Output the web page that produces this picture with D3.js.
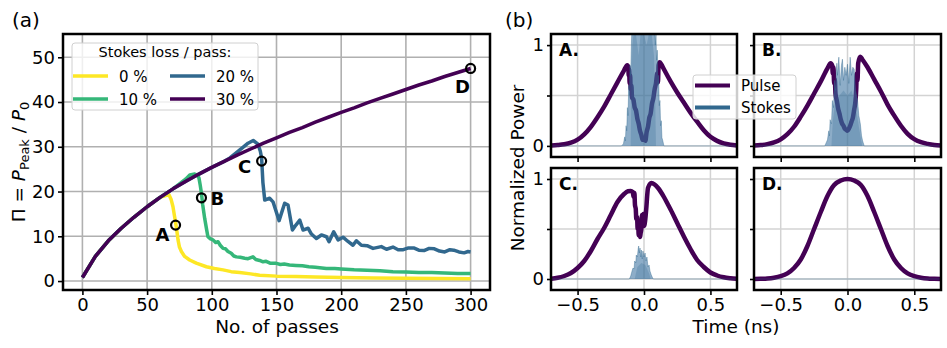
<!DOCTYPE html>
<html lang="en">
<head>
<meta charset="utf-8">
<title>Stokes loss chart</title>
<script src="https://cdn.jsdelivr.net/npm/d3@7"></script>
<style>
  body { margin: 0; background: #fff; }
  svg { font-family: "DejaVu Sans", sans-serif; display: block; }
</style>
</head>
<body>
<script>
// ---- data: panel (a) ----
var passes30 = [0,10,20,30,40,50,60,70,80,90,100,110,120,130,140,150,160,170,180,190,200,210,220,230,240,250,260,270,280,290,300];
var pi30 = [0.8,5.5,9.0,11.8,14.3,16.6,18.7,20.6,22.3,23.9,25.4,26.8,28.2,29.5,30.8,32.0,33.2,34.3,35.5,36.6,37.7,38.7,39.8,40.8,41.8,42.8,43.8,44.7,45.7,46.6,47.5];

var passes0 = [0,10,20,30,40,50,60,66.9,68.5,70,71,72.1,73,73.9,75,76.5,79,82.9,88,95.8,102,108.7,115,121.6,130,137,150,165,180,200,225,250,275,300];
var pi0 = [0.8,5.5,9.0,11.8,14.3,16.6,18.7,19.3,18.3,16.6,14.8,12.9,11.2,9.2,7.6,6.6,5.5,4.7,4.0,3.2,2.8,2.5,2.1,1.9,1.6,1.3,1.1,1.0,0.9,0.8,0.7,0.6,0.55,0.5];

var passes10 = [0,10,20,30,40,50,60,70,75,80,83,86.8,89,90.1,91,92,93,94.5,96,97,99,100.9,103,104.8,106.5,108.7,110.5,112.5,115,117,119,122,125.4,128,131.8,134,137,139.6,142,145,149.9,153,156,160,165,170,175,180,188.5,195,200,210,220,230,240,250,260,270,280,290,300];
var pi10 = [0.8,5.5,9.0,11.8,14.3,16.6,18.7,20.6,21.7,22.8,23.7,23.9,23.6,23.0,21.5,19.6,17.0,14.0,11.5,9.9,9.4,9.2,8.6,8.8,8.0,7.3,7.2,6.6,6.2,5.6,5.4,5.3,5.1,5.0,5.4,4.8,4.6,4.3,4.4,4.0,3.95,3.7,3.8,3.6,3.5,3.4,3.2,3.1,2.8,2.8,2.7,2.5,2.4,2.3,2.1,2.0,1.9,1.9,1.8,1.7,1.7];

var passes20 = [0,10,20,30,40,50,60,70,80,90,100,110,114,120,125,128,132,135.7,137.5,138.5,139.5,140.9,144.7,147.3,152,156.3,158.9,162.3,165,168,170.5,174.4,177,180.8,184.7,188.6,190.6,194.2,197.6,201.4,205,209.1,211.7,215.6,220,224.6,231,235,240,244,248,252,256,260,264,268,272,276,280,284,287,291,295,298,300];
var pi20 = [0.8,5.5,9.0,11.8,14.3,16.6,18.7,20.6,22.3,23.9,25.4,26.8,27.5,28.9,30.1,30.8,31.4,30.6,29.0,27.5,22.0,18.1,18.5,17.7,13.5,17.4,17.0,11.4,12.5,13.6,11.4,11.8,10.5,9.5,10.3,9.9,8.8,11.0,9.2,9.8,8.9,8.0,9.0,8.0,7.9,7.3,7.7,7.1,7.6,7.0,7.0,7.4,7.4,6.9,6.8,7.3,7.2,6.7,6.5,7.0,6.9,6.5,6.3,6.6,6.5];

var markerPass = [72, 92, 138.5, 300];
var markerPi = [12.5, 18.6, 26.8, 47.5];
var markerName = ["A", "B", "C", "D"];
var lossLabels = ["0 %", "10 %", "20 %", "30 %"];

// ---- data: panel (b), [time ns, normalized power] ----
var pulseA = [[-0.7,0.003],[-0.65,0.008],[-0.6,0.016],[-0.55,0.032],[-0.5,0.062],[-0.45,0.115],[-0.4,0.19],[-0.35,0.285],[-0.3,0.39],[-0.25,0.51],[-0.2,0.63],[-0.15,0.75],[-0.126,0.8],[-0.118,0.78],[-0.115,0.7],[-0.112,0.76],[-0.108,0.62],[-0.104,0.7],[-0.1,0.56],[-0.095,0.6],[-0.09,0.48],[-0.08,0.46],[-0.07,0.38],[-0.06,0.35],[-0.05,0.27],[-0.04,0.22],[-0.03,0.15],[-0.02,0.11],[-0.01,0.06],[0,0.08],[0.01,0.05],[0.02,0.14],[0.03,0.19],[0.04,0.28],[0.05,0.32],[0.06,0.42],[0.07,0.47],[0.08,0.56],[0.09,0.62],[0.1,0.72],[0.105,0.63],[0.11,0.8],[0.118,0.83],[0.13,0.81],[0.15,0.76],[0.2,0.64],[0.25,0.53],[0.3,0.43],[0.35,0.33],[0.4,0.24],[0.45,0.155],[0.5,0.09],[0.55,0.05],[0.6,0.025],[0.65,0.012],[0.7,0.005]];
var pulseB = [[-0.7,0.003],[-0.65,0.008],[-0.6,0.018],[-0.55,0.035],[-0.5,0.065],[-0.45,0.116],[-0.4,0.19],[-0.35,0.29],[-0.3,0.4],[-0.25,0.52],[-0.2,0.64],[-0.15,0.77],[-0.126,0.82],[-0.115,0.8],[-0.11,0.72],[-0.105,0.78],[-0.1,0.62],[-0.095,0.66],[-0.09,0.52],[-0.08,0.45],[-0.07,0.37],[-0.06,0.32],[-0.05,0.26],[-0.04,0.22],[-0.03,0.2],[-0.02,0.17],[-0.01,0.16],[0,0.15],[0.01,0.17],[0.02,0.2],[0.03,0.24],[0.04,0.28],[0.05,0.36],[0.06,0.45],[0.065,0.55],[0.07,0.72],[0.075,0.65],[0.08,0.82],[0.096,0.885],[0.11,0.86],[0.15,0.78],[0.2,0.66],[0.25,0.54],[0.3,0.41],[0.35,0.3],[0.4,0.2],[0.45,0.12],[0.5,0.067],[0.55,0.037],[0.6,0.02],[0.65,0.009],[0.7,0.004]];
var pulseC = [[-0.7,0.003],[-0.65,0.012],[-0.6,0.03],[-0.55,0.06],[-0.5,0.11],[-0.45,0.18],[-0.4,0.28],[-0.35,0.4],[-0.3,0.51],[-0.25,0.64],[-0.2,0.77],[-0.15,0.85],[-0.121,0.877],[-0.1,0.88],[-0.085,0.87],[-0.078,0.82],[-0.072,0.86],[-0.068,0.74],[-0.062,0.7],[-0.058,0.6],[-0.052,0.62],[-0.048,0.5],[-0.044,0.55],[-0.04,0.44],[-0.035,0.48],[-0.03,0.42],[-0.025,0.46],[-0.02,0.5],[-0.015,0.64],[-0.01,0.55],[-0.005,0.65],[0,0.53],[0.005,0.55],[0.01,0.6],[0.018,0.72],[0.025,0.85],[0.03,0.91],[0.055,0.96],[0.08,0.945],[0.106,0.91],[0.15,0.82],[0.181,0.743],[0.2,0.695],[0.25,0.56],[0.3,0.425],[0.35,0.3],[0.4,0.19],[0.45,0.12],[0.5,0.065],[0.55,0.035],[0.6,0.017],[0.65,0.008],[0.7,0.003]];
var pulseD = [[-0.7,0.0],[-0.65,0.002],[-0.6,0.005],[-0.55,0.013],[-0.5,0.028],[-0.45,0.056],[-0.4,0.11],[-0.35,0.195],[-0.3,0.33],[-0.25,0.5],[-0.2,0.67],[-0.15,0.83],[-0.1,0.94],[-0.05,0.985],[0,1.0],[0.05,0.985],[0.1,0.94],[0.15,0.83],[0.2,0.67],[0.25,0.5],[0.3,0.33],[0.35,0.195],[0.4,0.11],[0.45,0.056],[0.5,0.028],[0.55,0.013],[0.6,0.005],[0.65,0.002],[0.7,0.0]];

// stokes: outer envelope and dense core
var stokesA = [[-0.7,0],[-0.17,0],[-0.155,0.02],[-0.145,0.09],[-0.14,0.05],[-0.135,0.2],[-0.13,0.15],[-0.125,0.38],[-0.12,0.3],[-0.115,0.6],[-0.11,0.5],[-0.105,0.8],[-0.1,0.7],[-0.095,1.0],[-0.09,1.2],[0.08,1.2],[0.085,1.0],[0.09,1.1],[0.095,0.85],[0.1,0.95],[0.105,0.6],[0.11,0.7],[0.115,0.4],[0.12,0.45],[0.125,0.2],[0.13,0.25],[0.135,0.08],[0.14,0.06],[0.15,0],[0.7,0]];
var stokesCoreA = [[-0.1,0],[-0.095,0.5],[-0.088,1.0],[-0.07,1.2],[-0.04,0.9],[-0.02,1.2],[0.02,1.0],[0.05,1.2],[0.075,0.9],[0.085,0.4],[0.09,0]];
var stokesB = [[-0.7,0],[-0.17,0],[-0.16,0.03],[-0.15,0.06],[-0.14,0.15],[-0.135,0.1],[-0.13,0.26],[-0.12,0.22],[-0.113,0.45],[-0.105,0.38],[-0.096,0.65],[-0.09,0.55],[-0.08,0.82],[-0.075,0.7],[-0.065,0.88],[-0.055,0.6],[-0.045,0.8],[-0.038,0.86],[-0.03,0.65],[-0.02,0.78],[-0.01,0.7],[0,0.81],[0.01,0.62],[0.02,0.88],[0.03,0.7],[0.04,0.78],[0.05,0.76],[0.06,0.55],[0.075,0.45],[0.085,0.3],[0.096,0.22],[0.105,0.1],[0.113,0.05],[0.125,0],[0.7,0]];
var stokesCoreB = [[-0.12,0],[-0.11,0.25],[-0.09,0.45],[-0.06,0.5],[-0.03,0.55],[0,0.5],[0.03,0.55],[0.06,0.4],[0.09,0.15],[0.11,0]];
var stokesC = [[-0.7,0],[-0.11,0],[-0.1,0.03],[-0.09,0.08],[-0.083,0.11],[-0.075,0.1],[-0.07,0.18],[-0.062,0.16],[-0.058,0.24],[-0.05,0.22],[-0.044,0.3],[-0.04,0.33],[-0.035,0.26],[-0.03,0.31],[-0.024,0.22],[-0.02,0.29],[-0.013,0.2],[-0.008,0.28],[0,0.22],[0.008,0.26],[0.015,0.18],[0.022,0.22],[0.03,0.12],[0.038,0.14],[0.045,0.08],[0.055,0.04],[0.065,0.01],[0.07,0],[0.7,0]];
var stokesCoreC = [[-0.07,0],[-0.05,0.12],[-0.02,0.16],[0.01,0.14],[0.04,0.05],[0.05,0]];
var stokesD = [[-0.7,0],[0.7,0]];

var colors = ["#fde725", "#35b779", "#31688e", "#440154"];
var stokesColor = "#31688e";

var W = 947, H = 348;
var svg = d3.select("body").append("svg").attr("width", W).attr("height", H);

function styleAxis(sel, size) {
  sel.selectAll(".domain").remove();
  sel.selectAll(".tick line").attr("stroke-width", 1.6);
  sel.selectAll("g").attr("font-size", null).attr("font-family", null);
  sel.selectAll("text").attr("font-size", size).attr("font-family", "DejaVu Sans").attr("fill", "#000");
}

// ---------------- panel (a) ----------------
var pa = {x0: 63, x1: 490, y0: 34, y1: 290};
var x = d3.scaleLinear().domain([-15, 315]).range([pa.x0, pa.x1]);
var y = d3.scaleLinear().domain([-2, 55.2]).range([pa.y1, pa.y0]);

var ga = svg.append("g");
ga.append("clipPath").attr("id", "clipA").append("rect")
  .attr("x", pa.x0).attr("y", pa.y0).attr("width", pa.x1 - pa.x0).attr("height", pa.y1 - pa.y0);

var xt = [0, 50, 100, 150, 200, 250, 300], yt = [0, 10, 20, 30, 40, 50];
ga.selectAll(".gx").data(xt).enter().append("line")
  .attr("x1", x).attr("x2", x).attr("y1", pa.y0).attr("y2", pa.y1)
  .attr("stroke", "#b0b0b0").attr("stroke-width", 1.6);
ga.selectAll(".gy").data(yt).enter().append("line")
  .attr("y1", y).attr("y2", y).attr("x1", pa.x0).attr("x2", pa.x1)
  .attr("stroke", "#b0b0b0").attr("stroke-width", 1.6);

var series = [[passes0, pi0], [passes10, pi10], [passes20, pi20], [passes30, pi30]];
var line = d3.line().x(function(d) { return x(d[0]); }).y(function(d) { return y(d[1]); });
series.forEach(function(s, i) {
  var pts = s[0].map(function(p, j) { return [p, s[1][j]]; });
  ga.append("path").attr("d", line(pts)).attr("fill", "none")
    .attr("stroke", colors[i]).attr("stroke-width", 3.5)
    .attr("stroke-linejoin", "round").attr("clip-path", "url(#clipA)");
});

markerPass.forEach(function(p, i) {
  ga.append("circle").attr("cx", x(p)).attr("cy", y(markerPi[i])).attr("r", 4.5)
    .attr("fill", "none").attr("stroke", "#000").attr("stroke-width", 2.2);
});
var lblOff = [[-13, 16], [16, 7], [-17, 12], [-8, 25]];
markerName.forEach(function(n, i) {
  ga.append("text").attr("x", x(markerPass[i]) + lblOff[i][0]).attr("y", y(markerPi[i]) + lblOff[i][1])
    .attr("text-anchor", "middle").attr("font-size", 18).attr("font-weight", "bold").text(n);
});

var axA = ga.append("g");
axA.append("g").attr("transform", "translate(0," + pa.y1 + ")")
  .call(d3.axisBottom(x).tickValues(xt).tickSize(5).tickPadding(3).tickFormat(d3.format("d")));
axA.append("g").attr("transform", "translate(" + pa.x0 + ",0)")
  .call(d3.axisLeft(y).tickValues(yt).tickSize(5).tickPadding(3).tickFormat(d3.format("d")));
styleAxis(axA, 18);

ga.append("rect").attr("x", pa.x0).attr("y", pa.y0).attr("width", pa.x1 - pa.x0).attr("height", pa.y1 - pa.y0)
  .attr("fill", "none").attr("stroke", "#000").attr("stroke-width", 2.5);

// legend (a)
var lg = ga.append("g");
lg.append("rect").attr("x", 72).attr("y", 43).attr("width", 186).attr("height", 67).attr("rx", 3)
  .attr("fill", "#fff").attr("fill-opacity", 0.8).attr("stroke", "#d0d0d0");
lg.append("text").attr("x", 165).attr("y", 57).attr("text-anchor", "middle").attr("font-size", 14.5)
  .text("Stokes loss / pass:");
lossLabels.forEach(function(l, i) {
  var col = Math.floor(i / 2), row = i % 2;
  var lx = 73 + col * 97, ly = 76 + row * 23;
  lg.append("line").attr("x1", lx).attr("x2", lx + 35).attr("y1", ly).attr("y2", ly)
    .attr("stroke", colors[i]).attr("stroke-width", 3.5);
  lg.append("text").attr("x", lx + 46).attr("y", ly + 5.5).attr("font-size", 15).text(l);
});

svg.append("text").attr("x", 12).attr("y", 27).attr("font-size", 20).text("(a)");
svg.append("text").attr("x", 277).attr("y", 333).attr("text-anchor", "middle").attr("font-size", 18.5)
  .text("No. of passes");

var yl = svg.append("text").attr("transform", "translate(25,162) rotate(-90)")
  .attr("text-anchor", "middle").attr("font-size", 18.5);
yl.append("tspan").text("\u03a0 = ");
yl.append("tspan").attr("font-style", "italic").text("P");
yl.append("tspan").attr("font-size", 13).attr("dy", 4).text("Peak");
yl.append("tspan").attr("dy", -4).text(" / ");
yl.append("tspan").attr("font-style", "italic").text("P");
yl.append("tspan").attr("font-size", 13).attr("dy", 4).text("0");

// ---------------- panel (b) ----------------
var panels = [
  {name: "A.", x0: 551, x1: 737, y0: 34, y1: 157, pulse: pulseA, stokes: stokesA, core: stokesCoreA, ylab: true, xlab: false},
  {name: "B.", x0: 754, x1: 941, y0: 34, y1: 157, pulse: pulseB, stokes: stokesB, core: stokesCoreB, ylab: false, xlab: false},
  {name: "C.", x0: 551, x1: 737, y0: 168, y1: 290, pulse: pulseC, stokes: stokesC, core: stokesCoreC, ylab: true, xlab: true},
  {name: "D.", x0: 754, x1: 941, y0: 168, y1: 290, pulse: pulseD, stokes: stokesD, core: [], ylab: false, xlab: true}
];

panels.forEach(function(p, k) {
  var px = d3.scaleLinear().domain([-0.7, 0.7]).range([p.x0, p.x1]);
  var py = d3.scaleLinear().domain([-0.11, 1.11]).range([p.y1, p.y0]);
  var g = svg.append("g");
  var cid = "clipP" + k;
  g.append("clipPath").attr("id", cid).append("rect")
    .attr("x", p.x0).attr("y", p.y0).attr("width", p.x1 - p.x0).attr("height", p.y1 - p.y0);

  [-0.5, 0, 0.5].forEach(function(t) {
    g.append("line").attr("x1", px(t)).attr("x2", px(t)).attr("y1", p.y0).attr("y2", p.y1)
      .attr("stroke", "#d3d3d3").attr("stroke-width", 1.5);
  });
  [0, 0.5, 1].forEach(function(v) {
    g.append("line").attr("y1", py(v)).attr("y2", py(v)).attr("x1", p.x0).attr("x2", p.x1)
      .attr("stroke", "#d3d3d3").attr("stroke-width", 1.5);
  });

  var pl = d3.line().curve(d3.curveMonotoneX)
    .x(function(d) { return px(d[0]); }).y(function(d) { return py(d[1]); });
  var sl = d3.line().x(function(d) { return px(d[0]); }).y(function(d) { return py(d[1]); });
  var ar = d3.area().x(function(d) { return px(d[0]); }).y0(py(0)).y1(function(d) { return py(d[1]); });
  var body = g.append("g").attr("clip-path", "url(#" + cid + ")");
  body.append("path").attr("d", pl(p.pulse)).attr("fill", "none").attr("stroke", colors[3])
    .attr("stroke-width", 4.5).attr("stroke-linejoin", "round");
  body.append("path").attr("d", ar(p.stokes)).attr("fill", "#3a72a0").attr("fill-opacity", 0.58);
  body.append("path").attr("d", sl(p.stokes)).attr("fill", "none").attr("stroke", stokesColor)
    .attr("stroke-opacity", 0.4).attr("stroke-width", 1);
  if (p.core.length) {
    body.append("path").attr("d", ar(p.core)).attr("fill", stokesColor).attr("fill-opacity", 0.25);
  }

  var ax = g.append("g");
  ax.append("g").attr("transform", "translate(0," + p.y1 + ")")
    .call(d3.axisBottom(px).tickValues([-0.5, 0, 0.5]).tickSize(5).tickPadding(3)
      .tickFormat(p.xlab ? d3.format(".1f") : ""));
  ax.append("g").attr("transform", "translate(" + p.x0 + ",0)")
    .call(d3.axisLeft(py).tickValues([0, 0.5, 1]).tickSize(4).tickPadding(3)
      .tickFormat(function(v) { return (p.ylab && v !== 0.5) ? d3.format("d")(v) : ""; }));
  styleAxis(ax, 18);

  g.append("rect").attr("x", p.x0).attr("y", p.y0).attr("width", p.x1 - p.x0).attr("height", p.y1 - p.y0)
    .attr("fill", "none").attr("stroke", "#000").attr("stroke-width", 2.5);
  g.append("text").attr("x", p.x0 + 8).attr("y", p.y0 + 21.5).attr("font-size", 17)
    .attr("font-weight", "bold").text(p.name);
});

// legend (b)
var lb = svg.append("g");
lb.append("rect").attr("x", 693).attr("y", 75).attr("width", 103).attr("height", 44).attr("rx", 3)
  .attr("fill", "#fff").attr("fill-opacity", 0.8).attr("stroke", "#d0d0d0");
[["Pulse", colors[3]], ["Stokes", stokesColor]].forEach(function(e, i) {
  var ly = 85.5 + i * 22;
  lb.append("line").attr("x1", 695).attr("x2", 730).attr("y1", ly).attr("y2", ly)
    .attr("stroke", e[1]).attr("stroke-width", 4);
  lb.append("text").attr("x", 741).attr("y", ly + 5.5).attr("font-size", 15).text(e[0]);
});

svg.append("text").attr("x", 505).attr("y", 27).attr("font-size", 20).text("(b)");
svg.append("text").attr("x", 736).attr("y", 333).attr("text-anchor", "middle").attr("font-size", 18.5)
  .text("Time (ns)");
svg.append("text").attr("transform", "translate(524,168) rotate(-90)").attr("text-anchor", "middle")
  .attr("font-size", 18.5).text("Normalized Power");
</script>
</body>
</html>
